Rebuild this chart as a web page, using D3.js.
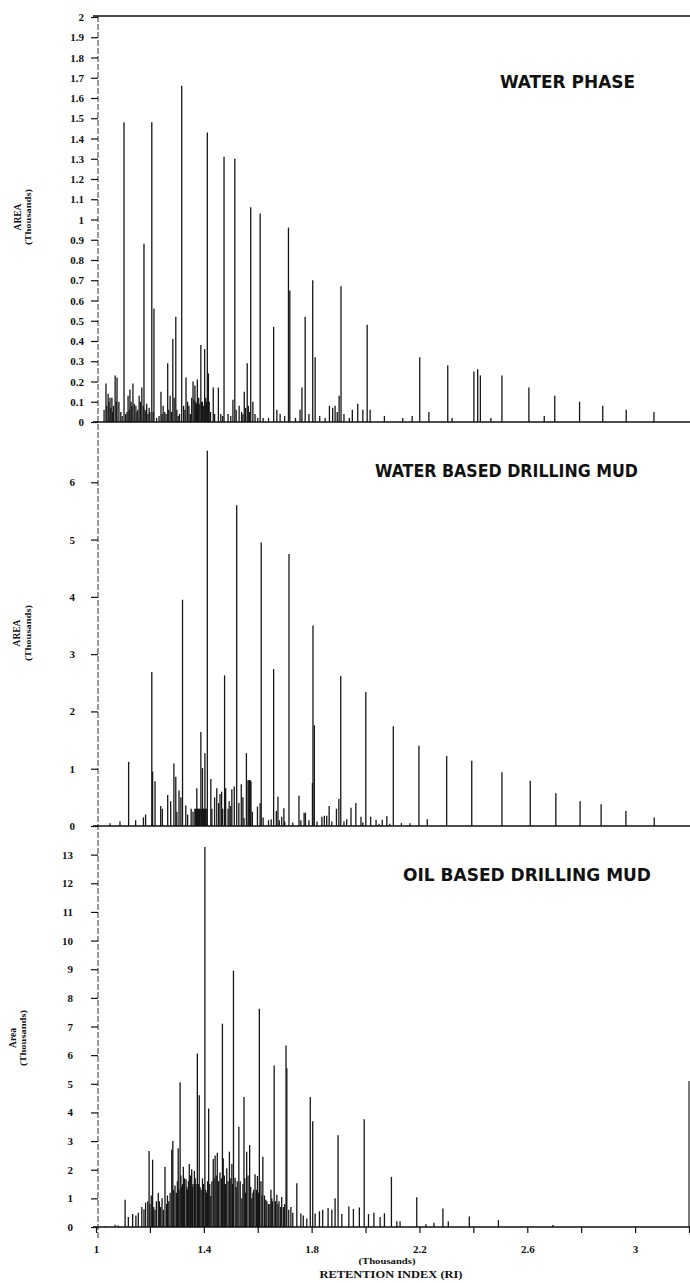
<!DOCTYPE html>
<meta charset="utf-8">
<head>
	<title> Retention index chromatograms </title>
	<style>
		body { margin: 0; background: #fff; }
		.tick text {
			font-family: "Liberation Serif", "DejaVu Serif", serif;
			font-weight: bold;
			font-size: 11px;
			fill: #111;
		}
		.tick line { stroke: #111; stroke-width: 1.2px; }
		.peak { stroke: #161616; stroke-width: 1.3px; }
		.title {
			font-family: "Liberation Sans Narrow", "DejaVu Sans Condensed", "Liberation Sans", sans-serif;
			font-weight: bold;
			fill: #111;
		}
		.lab {
			font-family: "Liberation Serif", "DejaVu Serif", serif;
			font-weight: bold;
			fill: #111;
		}
	</style>
</head>
<body>
	<div id="chart"></div>
</body>

<script src="https://cdnjs.cloudflare.com/ajax/libs/d3/7.8.5/d3.min.js"></script>

<script type="text/javascript">

	// Peaks as [retention index (thousands), area (thousands)]
	var waterPhase = [
		[1.030,0.06],[1.037,0.19],[1.040,0.08],[1.045,0.14],[1.048,0.10],[1.052,0.12],[1.055,0.07],[1.059,0.12],
		[1.062,0.05],[1.065,0.08],[1.071,0.23],[1.075,0.10],[1.078,0.22],[1.085,0.10],[1.092,0.05],[1.097,0.03],
		[1.104,1.48],[1.110,0.04],[1.115,0.05],[1.119,0.13],[1.123,0.06],[1.126,0.16],[1.130,0.10],[1.133,0.08],
		[1.137,0.19],[1.142,0.09],[1.148,0.08],[1.152,0.05],[1.155,0.06],[1.160,0.13],[1.165,0.10],[1.170,0.17],
		[1.175,0.08],[1.178,0.88],[1.182,0.06],[1.185,0.05],[1.188,0.09],[1.193,0.04],[1.197,0.07],[1.200,0.05],
		[1.207,1.48],[1.212,0.05],[1.215,0.56],[1.225,0.02],[1.234,0.03],[1.241,0.15],[1.245,0.04],[1.249,0.08],
		[1.255,0.05],[1.260,0.04],[1.266,0.29],[1.270,0.06],[1.275,0.13],[1.280,0.05],[1.285,0.41],[1.290,0.12],
		[1.296,0.52],[1.300,0.06],[1.305,0.03],[1.310,0.04],[1.318,1.66],[1.325,0.08],[1.330,0.06],[1.334,0.22],
		[1.340,0.10],[1.345,0.08],[1.350,0.04],[1.355,0.12],[1.360,0.20],[1.364,0.11],[1.367,0.18],[1.370,0.10],
		[1.373,0.09],[1.376,0.21],[1.379,0.08],[1.381,0.12],[1.385,0.09],[1.389,0.38],[1.392,0.10],[1.395,0.10],
		[1.398,0.08],[1.403,0.36],[1.407,0.12],[1.410,0.10],[1.413,1.43],[1.417,0.24],[1.420,0.10],[1.425,0.05],
		[1.435,0.17],[1.440,0.04],[1.454,0.17],[1.463,0.04],[1.470,0.03],[1.475,1.31],[1.490,0.04],[1.500,0.03],
		[1.508,0.11],[1.515,1.30],[1.520,0.06],[1.531,0.08],[1.540,0.05],[1.545,0.04],[1.550,0.15],[1.555,0.07],
		[1.561,0.29],[1.565,0.08],[1.570,0.05],[1.574,1.06],[1.582,0.10],[1.590,0.04],[1.600,0.02],[1.609,1.03],
		[1.620,0.02],[1.640,0.02],[1.659,0.47],[1.671,0.06],[1.683,0.04],[1.700,0.03],[1.714,0.96],[1.719,0.65],
		[1.740,0.02],[1.757,0.06],[1.764,0.17],[1.776,0.52],[1.790,0.04],[1.804,0.70],[1.813,0.32],[1.830,0.03],
		[1.850,0.02],[1.866,0.08],[1.878,0.07],[1.887,0.08],[1.895,0.05],[1.902,0.13],[1.909,0.67],[1.920,0.04],
		[1.940,0.02],[1.951,0.06],[1.971,0.09],[1.990,0.06],[2.006,0.48],[2.017,0.06],[2.070,0.03],[2.138,0.02],
		[2.173,0.03],[2.201,0.32],[2.235,0.05],[2.305,0.28],[2.321,0.02],[2.402,0.25],[2.416,0.26],[2.426,0.23],
		[2.465,0.02],[2.506,0.23],[2.606,0.17],[2.663,0.03],[2.702,0.13],[2.794,0.10],[2.880,0.08],[2.967,0.06],
		[3.070,0.05]
	];

	var waterBasedMud = [
		[1.052,0.05],[1.089,0.08],[1.121,1.12],[1.147,0.10],[1.176,0.15],[1.184,0.20],[1.207,2.69],[1.210,0.95],
		[1.219,0.78],[1.240,0.35],[1.246,0.30],[1.266,0.54],[1.277,0.43],[1.289,1.09],[1.296,0.86],[1.300,0.25],
		[1.308,0.62],[1.315,0.50],[1.321,3.95],[1.333,0.36],[1.340,0.20],[1.353,0.30],[1.360,0.25],[1.367,0.30],
		[1.369,0.30],[1.373,0.30],[1.374,0.66],[1.376,0.30],[1.379,0.30],[1.381,0.30],[1.384,0.30],[1.386,0.30],
		[1.389,1.64],[1.392,0.30],[1.395,1.01],[1.397,0.30],[1.399,0.30],[1.401,0.30],[1.403,0.30],[1.404,1.27],
		[1.406,0.30],[1.409,0.30],[1.413,6.55],[1.426,0.82],[1.430,0.30],[1.440,0.50],[1.448,0.66],[1.455,0.40],
		[1.460,0.56],[1.466,0.60],[1.470,0.30],[1.477,2.63],[1.481,0.66],[1.490,0.30],[1.494,0.43],[1.500,0.35],
		[1.504,0.64],[1.513,0.69],[1.522,5.60],[1.530,0.40],[1.539,0.73],[1.545,0.50],[1.549,0.14],[1.558,1.27],
		[1.564,0.80],[1.567,0.80],[1.570,0.80],[1.572,0.80],[1.575,0.78],[1.580,0.25],[1.599,0.34],[1.609,0.40],
		[1.613,4.95],[1.620,0.15],[1.640,0.10],[1.650,0.12],[1.659,2.74],[1.669,0.26],[1.675,0.51],[1.680,0.10],
		[1.689,0.16],[1.697,0.31],[1.700,0.08],[1.716,4.75],[1.730,0.06],[1.753,0.53],[1.760,0.10],[1.772,0.23],
		[1.777,0.23],[1.790,0.10],[1.803,0.75],[1.805,3.50],[1.810,1.76],[1.820,0.08],[1.838,0.16],[1.847,0.18],
		[1.856,0.18],[1.865,0.35],[1.875,0.08],[1.892,0.30],[1.901,0.47],[1.908,2.62],[1.920,0.08],[1.930,0.12],
		[1.946,0.32],[1.964,0.40],[1.983,0.16],[1.990,0.06],[2.001,2.34],[2.019,0.16],[2.039,0.11],[2.050,0.04],
		[2.062,0.11],[2.079,0.17],[2.090,0.04],[2.103,1.74],[2.133,0.05],[2.165,0.05],[2.198,1.40],[2.229,0.12],
		[2.301,1.22],[2.394,1.14],[2.506,0.94],[2.611,0.79],[2.706,0.57],[2.796,0.43],[2.874,0.38],[2.966,0.26],
		[3.071,0.15]
	];

	var oilBasedMud = [
		[1.033,0.03],[1.071,0.08],[1.082,0.05],[1.108,0.95],[1.120,0.35],[1.136,0.45],[1.148,0.40],[1.157,0.50],
		[1.170,0.70],[1.178,0.62],[1.184,0.85],[1.192,0.90],[1.197,2.65],[1.200,0.80],[1.205,1.10],[1.210,2.35],
		[1.214,0.70],[1.219,0.60],[1.224,0.90],[1.231,1.20],[1.235,0.90],[1.240,0.70],[1.245,1.00],[1.250,0.60],
		[1.256,2.10],[1.262,0.80],[1.265,1.10],[1.270,0.90],[1.275,1.20],[1.281,2.70],[1.285,3.00],[1.288,1.30],
		[1.293,1.45],[1.298,1.20],[1.302,1.60],[1.305,2.75],[1.308,1.30],[1.312,5.05],[1.315,1.80],[1.318,1.40],
		[1.321,1.50],[1.324,2.10],[1.328,1.70],[1.334,1.67],[1.337,1.40],[1.340,1.30],[1.343,1.60],[1.346,2.20],
		[1.350,1.80],[1.355,2.02],[1.358,1.40],[1.360,1.50],[1.365,1.96],[1.368,1.70],[1.371,1.50],[1.376,6.06],
		[1.380,1.50],[1.383,4.60],[1.386,1.40],[1.390,1.30],[1.395,1.70],[1.399,1.50],[1.404,13.27],[1.407,1.30],
		[1.410,1.20],[1.414,1.60],[1.418,4.14],[1.422,1.50],[1.426,1.08],[1.430,1.60],[1.435,2.37],[1.438,1.70],
		[1.442,2.50],[1.446,1.80],[1.450,2.59],[1.455,1.60],[1.460,1.90],[1.465,1.70],[1.469,7.10],[1.472,2.40],
		[1.476,1.80],[1.480,1.50],[1.485,2.05],[1.490,1.60],[1.495,2.63],[1.500,1.70],[1.504,2.20],[1.507,1.50],
		[1.510,8.95],[1.516,1.72],[1.520,1.40],[1.524,1.60],[1.530,3.50],[1.535,1.60],[1.541,1.00],[1.545,1.50],
		[1.549,4.54],[1.552,1.70],[1.555,1.20],[1.559,2.63],[1.564,1.80],[1.570,2.86],[1.574,1.40],[1.578,1.00],
		[1.582,1.20],[1.585,1.30],[1.590,1.84],[1.595,1.30],[1.599,1.78],[1.603,1.20],[1.606,7.62],[1.612,1.60],
		[1.616,1.10],[1.619,2.45],[1.625,1.10],[1.630,0.95],[1.634,0.90],[1.640,0.80],[1.645,0.80],[1.649,1.30],
		[1.652,1.00],[1.655,0.90],[1.661,5.64],[1.666,0.90],[1.671,1.13],[1.675,0.80],[1.679,0.90],[1.685,0.70],
		[1.689,1.05],[1.695,0.70],[1.700,0.80],[1.705,6.34],[1.708,5.54],[1.715,0.60],[1.723,0.70],[1.730,0.50],
		[1.745,1.53],[1.760,0.47],[1.769,0.40],[1.782,0.30],[1.795,4.54],[1.804,3.69],[1.813,0.47],[1.829,0.55],
		[1.841,0.60],[1.861,0.66],[1.875,0.60],[1.887,1.00],[1.898,3.20],[1.912,0.45],[1.938,0.72],[1.955,0.63],
		[1.977,0.68],[1.995,3.76],[2.011,0.45],[2.031,0.50],[2.054,0.35],[2.070,0.48],[2.096,1.75],[2.116,0.20],
		[2.128,0.20],[2.190,1.04],[2.224,0.10],[2.254,0.15],[2.287,0.65],[2.307,0.20],[2.385,0.37],[2.493,0.24],
		[2.695,0.07]
	];

	var panelTitles = ["WATER PHASE", "WATER BASED DRILLING MUD", "OIL BASED DRILLING MUD"];
	var yLabels = ["AREA", "AREA", "Area"];
	var yTicksWater = d3.range(0, 21).map(function (i) { return i / 10; });
	var yTicksWbm = d3.range(0, 7);
	var yTicksObm = d3.range(0, 14);
	var xTicks = d3.range(0, 12).map(function (i) { return 1 + i * 0.2; });
	var xLabelTicks = [1, 1.4, 1.8, 2.2, 2.6, 3];

	// Page size
	var width = 690;
	var height = 1283;
	var axisX = 98;

	var svg = d3.select("#chart").append("svg")
		.attr("width", width)
		.attr("height", height);

	var x = d3.scaleLinear().domain([1, 3.2]).range([96, 689]);

	var panels = [
		{ peaks: waterPhase, max: 2, y0: 422, y1: 17, ticks: yTicksWater, pad: 7,
		  tx: 500, tw: 135, ty: 88, fs: 17, ly: 217, lb: [21, 31] },
		{ peaks: waterBasedMud, max: 7, y0: 826, y1: 425, ticks: yTicksWbm, pad: 16,
		  tx: 375, tw: 263, ty: 477, fs: 17, ly: 633, lb: [20, 31] },
		{ peaks: oilBasedMud, max: 14, y0: 1227, y1: 826, ticks: yTicksObm, pad: 18,
		  tx: 403, tw: 248, ty: 881, fs: 17, ly: 1038, lb: [16, 26] }
	];

	var fmt = d3.format(".1~f");

	// Dashed left axis running through all panels
	svg.append("line")
		.attr("x1", axisX).attr("x2", axisX)
		.attr("y1", 16).attr("y2", 1240)
		.attr("stroke", "#333")
		.attr("stroke-width", 1)
		.attr("stroke-dasharray", "6,2");

	// Top frame line
	svg.append("line")
		.attr("x1", 93).attr("x2", width)
		.attr("y1", 16).attr("y2", 16)
		.attr("stroke", "#111")
		.attr("stroke-width", 1.5);

	var yBottom;

	panels.forEach(function (p, i) {
		var y = d3.scaleLinear().domain([0, p.max]).range([p.y0, p.y1]);
		var g = svg.append("g");

		g.selectAll("line.peak")
			.data(p.peaks)
			.enter()
			.append("line")
			.attr("class", "peak")
			.attr("x1", function (d) { return x(d[0]); })
			.attr("x2", function (d) { return x(d[0]); })
			.attr("y1", y(0))
			.attr("y2", function (d) { return y(d[1]); });

		// zero line
		g.append("line")
			.attr("x1", x(1) - 3).attr("x2", width)
			.attr("y1", y(0)).attr("y2", y(0))
			.attr("stroke", "#111")
			.attr("stroke-width", 1.6);

		var ax = g.append("g")
			.attr("transform", "translate(" + axisX + ",0)")
			.call(d3.axisLeft(y)
				.tickValues(p.ticks)
				.tickFormat(fmt)
				.tickSize(7)
				.tickSizeOuter(0)
				.tickPadding(p.pad));
		ax.select(".domain").remove();

		g.append("text")
			.attr("class", "title")
			.attr("x", p.tx)
			.attr("y", p.ty)
			.attr("font-size", p.fs)
			.attr("textLength", p.tw)
			.attr("lengthAdjust", "spacingAndGlyphs")
			.text(panelTitles[i]);

		g.append("text")
			.attr("class", "lab")
			.attr("transform", "translate(" + p.lb[0] + "," + p.ly + ") rotate(-90)")
			.attr("text-anchor", "middle")
			.attr("font-size", 9.5)
			.text(yLabels[i]);

		g.append("text")
			.attr("class", "lab")
			.attr("transform", "translate(" + p.lb[1] + "," + p.ly + ") rotate(-90)")
			.attr("text-anchor", "middle")
			.attr("font-size", 8.5)
			.attr("textLength", 56)
			.attr("lengthAdjust", "spacingAndGlyphs")
			.text("(Thousands)");

		if (i === panels.length - 1) yBottom = y;
	});

	// Bottom x axis
	var xa = svg.append("g")
		.attr("transform", "translate(0," + yBottom(0) + ")")
		.call(d3.axisBottom(x)
			.tickValues(xTicks)
			.tickSize(6)
			.tickSizeOuter(0)
			.tickPadding(12)
			.tickFormat(function (d) {
				var hit = xLabelTicks.some(function (t) { return Math.abs(t - d) < 1e-6; });
				return hit ? fmt(d) : "";
			}));
	xa.select(".domain").remove();

	// right edge of frame, bottom panel
	svg.append("line")
		.attr("x1", x(3.2)).attr("x2", x(3.2))
		.attr("y1", yBottom(0)).attr("y2", yBottom(5.1))
		.attr("stroke", "#222")
		.attr("stroke-width", 1.2);

	svg.append("text")
		.attr("class", "lab")
		.attr("x", 387).attr("y", 1264)
		.attr("text-anchor", "middle")
		.attr("font-size", 9)
		.attr("textLength", 57)
		.attr("lengthAdjust", "spacingAndGlyphs")
		.text("(Thousands)");

	svg.append("text")
		.attr("class", "lab")
		.attr("x", 391).attr("y", 1278)
		.attr("text-anchor", "middle")
		.attr("font-size", 11)
		.attr("font-weight", "normal")
		.attr("textLength", 143)
		.attr("lengthAdjust", "spacingAndGlyphs")
		.text("RETENTION INDEX (RI)");

</script>

</html>
